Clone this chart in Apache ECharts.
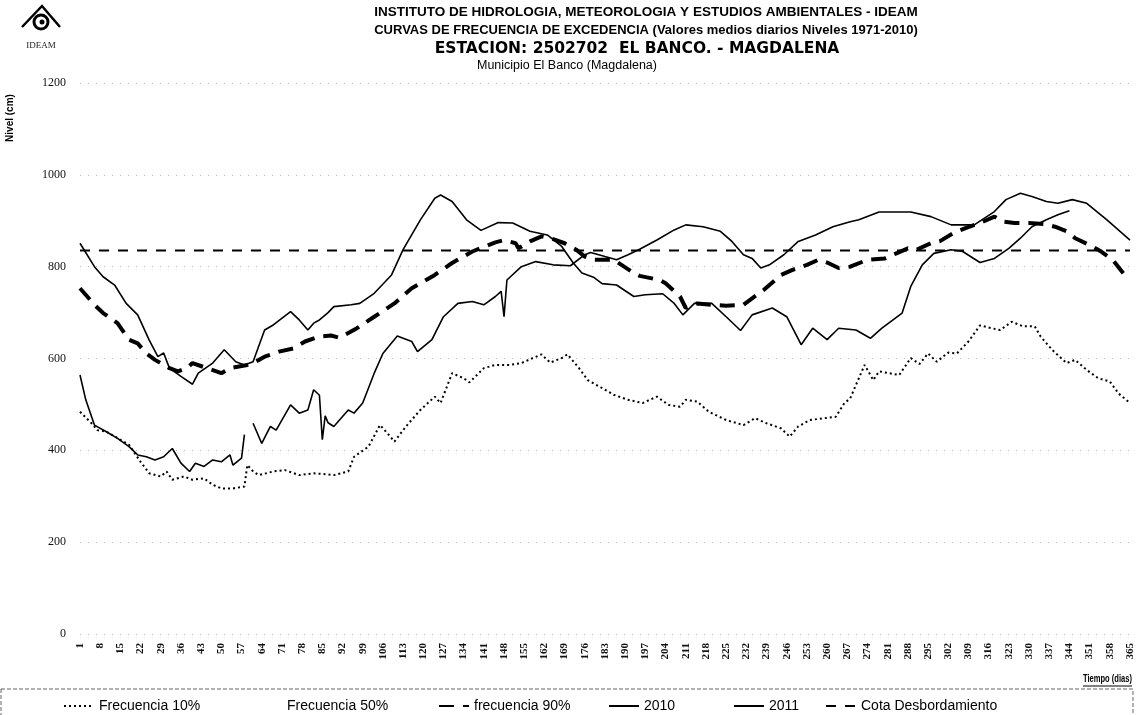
<!DOCTYPE html>
<html>
<head>
<meta charset="utf-8">
<title>Curvas de frecuencia de excedencia - El Banco</title>
<script src="https://cdn.jsdelivr.net/npm/echarts@6/dist/echarts.min.js"></script>
<style>
  html, body { margin: 0; padding: 0; background: #fff; }
  #chart { width: 1138px; height: 715px; }
</style>
</head>
<body>
<div id="chart"></div>
<script>
// niveles medios diarios (cm), por dia del año
const dias10 = [1,5,7,10,15,18,22,25,29,31,33,37,40,44,47,50,54,58,59,61,63,68,72,77,82,86,89,94,96,101,105,108,110,114,119,124,126,130,134,136,141,145,150,154,158,161,164,168,170,174,177,181,186,191,196,201,205,209,211,215,219,225,231,235,239,244,247,250,254,259,263,266,268,271,273,276,278,285,289,292,295,298,302,305,309,313,317,320,324,328,332,334,338,343,346,350,354,358,361,365];
const frec10 = [484,459,444,441,423,412,375,350,343,354,336,343,336,339,325,317,317,321,368,354,346,354,357,346,350,348,346,354,386,408,455,434,419,452,488,517,503,568,557,548,579,586,586,590,601,609,591,601,609,579,553,539,521,510,503,517,499,495,510,506,484,466,455,470,459,448,430,452,466,470,473,503,513,557,586,553,572,564,601,588,611,593,613,611,637,672,666,662,680,670,670,648,619,590,597,575,557,550,524,503];

const dias90 = [1,6,9,14,18,21,24,27,32,35,38,40,45,50,53,59,61,65,70,75,79,84,88,91,97,103,110,116,124,130,137,145,148,152,153,157,161,165,169,173,176,179,186,193,195,202,204,209,211,215,220,225,231,234,238,240,244,248,253,257,260,264,268,274,280,284,288,291,296,299,304,308,313,318,321,325,330,335,339,343,346,351,355,359,364];
const frec90 = [753,717,699,677,641,633,611,597,579,572,579,590,579,568,579,586,590,604,615,622,637,648,650,645,666,691,720,753,782,808,833,853,858,851,840,855,866,860,851,837,822,815,815,786,780,771,764,735,710,720,717,715,717,731,749,760,782,793,804,815,809,797,800,815,818,829,840,837,851,855,874,884,895,909,898,895,895,893,887,877,862,847,833,815,775];

// 2010: hueco sin datos hacia el dia 59
const dias2010 = [1,3,6,10,14,18,21,24,27,30,33,36,39,41,44,47,50,53,54,57,58,59,61,64,67,69,74,77,80,82,84,85,86,87,89,94,96,99,103,106,111,116,118,123,127,132,137,141,145,147,148,149,154,159,165,171,176,178,183,187,191,195,201,207,211,217,223,227,231,234,237,240,245,250,256,262,268,271,278,289,296,303,311,318,322,327,331,336,340,345,350,357,365];
const niv2010 = [564,510,455,441,426,408,390,386,379,386,404,372,354,372,365,379,375,390,368,383,434,'-',459,415,452,444,499,481,488,532,520,423,475,460,452,488,481,503,568,611,649,637,615,641,691,720,724,717,735,746,691,771,800,811,804,802,826,831,822,815,826,838,858,880,891,887,877,855,826,818,797,804,826,855,869,887,898,902,919,919,909,891,891,920,946,960,953,942,938,946,938,902,858];

// 2011: datos hasta el dia 344
const dias2011 = [1,6,9,13,17,21,25,28,30,32,36,40,42,47,51,55,58,61,65,68,74,77,80,82,84,87,89,95,98,103,109,113,119,124,126,130,135,140,146,151,157,163,168,172,175,179,182,187,193,197,203,207,210,214,220,225,230,234,241,246,251,255,260,264,270,275,279,286,289,293,297,303,307,313,318,323,327,331,336,340,344];
const niv2011 = [851,800,778,760,720,695,640,604,612,579,561,544,568,590,619,593,586,593,662,673,702,684,662,677,684,700,713,717,720,742,782,837,902,949,956,942,902,879,896,895,877,869,844,808,786,777,763,760,735,739,741,720,695,720,720,691,661,695,710,691,630,666,641,666,662,644,666,699,757,804,829,837,833,809,818,840,862,887,902,913,922];

const cotaDesborde = 835;

// eje x: dias 1..365
const dias = [];
for (let d = 1; d <= 365; d++) dias.push(String(d));

const pares = (d, v) => d.map((x, i) => [String(x), v[i]]);

const chart = echarts.init(document.getElementById('chart'));

// una leyenda por serie para poder ubicarlas como en el original
const leyenda = (nombre, left, icon) => ({
  left: left, top: 694, itemWidth: 30, itemHeight: 10,
  selectedMode: false,
  itemStyle: { opacity: 0 },
  data: [icon ? { name: nombre, icon: icon } : nombre],
  textStyle: { fontFamily: 'Liberation Sans', fontSize: 14, color: '#000' }
});

const option = {
  animation: false,
  backgroundColor: '#fff',
  grid: { left: 80, right: 8, top: 83, bottom: 81 },
  legend: [
    leyenda('Frecuencia 10%', 58),
    leyenda('Frecuencia 50%', 247, 'none'),
    leyenda('frecuencia 90%', 433),
    leyenda('2010', 603),
    leyenda('2011', 728),
    leyenda('Cota Desbordamiento', 820)
  ],
  xAxis: {
    type: 'category', data: dias, boundaryGap: false,
    axisLine: { show: false }, axisTick: { show: false },
    axisLabel: { interval: 6, rotate: 90, margin: 9, fontFamily: 'Liberation Serif', fontSize: 11, fontWeight: 'bold', color: '#111' },
    splitLine: { show: false }
  },
  yAxis: {
    type: 'value', min: 0, max: 1200, interval: 200,
    axisLine: { show: false }, axisTick: { show: false },
    axisLabel: { margin: 14, fontFamily: 'Liberation Serif', fontSize: 12, color: '#111', formatter: v => String(v) },
    splitLine: { lineStyle: { color: '#bbb', width: 1, type: [1, 7] } }
  },
  series: [
    { name: 'Frecuencia 10%', type: 'line', color: '#000', symbol: 'none',
      data: pares(dias10, frec10), lineStyle: { color: '#000', width: 2, type: [2, 3] } },
    { name: 'Frecuencia 50%', type: 'line', color: '#000', symbol: 'none', data: [] },
    { name: 'frecuencia 90%', type: 'line', color: '#000', symbol: 'none',
      data: pares(dias90, frec90), lineStyle: { color: '#000', width: 4, type: [15, 9] } },
    { name: '2010', type: 'line', color: '#000', symbol: 'none',
      data: pares(dias2010, niv2010), lineStyle: { color: '#000', width: 1.6 } },
    { name: '2011', type: 'line', color: '#000', symbol: 'none',
      data: pares(dias2011, niv2011), lineStyle: { color: '#000', width: 1.6 } },
    { name: 'Cota Desbordamiento', type: 'line', color: '#000', symbol: 'none',
      data: [['1', cotaDesborde], ['365', cotaDesborde]], lineStyle: { color: '#000', width: 2, type: [10, 9] } }
  ],
  graphic: [
    // logo IDEAM (aproximado)
    { type: 'polyline', shape: { points: [[22, 27], [42, 6], [60, 27]] }, style: { stroke: '#000', lineWidth: 2.5, fill: null } },
    { type: 'circle', shape: { cx: 41, cy: 22, r: 7 }, style: { stroke: '#000', lineWidth: 3, fill: null } },
    { type: 'circle', shape: { cx: 42, cy: 22, r: 2.5 }, style: { fill: '#000' } },
    { type: 'text', x: 41, y: 46, style: { text: 'IDEAM', font: '9px "Liberation Serif"', fill: '#222', textAlign: 'center', textVerticalAlign: 'middle' } },
    // titulos
    { type: 'text', x: 646, y: 12, style: { text: 'INSTITUTO DE HIDROLOGIA, METEOROLOGIA Y ESTUDIOS AMBIENTALES - IDEAM', font: 'bold 13.5px "Liberation Sans"', fill: '#000', textAlign: 'center', textVerticalAlign: 'middle' } },
    { type: 'text', x: 646, y: 30, style: { text: 'CURVAS DE FRECUENCIA DE EXCEDENCIA (Valores medios diarios Niveles 1971-2010)', font: 'bold 13px "Liberation Sans"', fill: '#000', textAlign: 'center', textVerticalAlign: 'middle' } },
    { type: 'text', x: 637, y: 49, style: { text: 'ESTACION: 2502702  EL BANCO. - MAGDALENA', font: 'bold 15.5px "DejaVu Sans"', fill: '#000', textAlign: 'center', textVerticalAlign: 'middle' } },
    { type: 'text', x: 477, y: 66, style: { text: 'Municipio El Banco (Magdalena)', font: '12.5px "Liberation Sans"', fill: '#000', textAlign: 'left', textVerticalAlign: 'middle' } },
    // nombre eje y
    { type: 'text', x: 10, y: 118, rotation: Math.PI / 2, style: { text: 'Nivel (cm)', font: 'bold 10px "Liberation Sans"', fill: '#000', textAlign: 'center', textVerticalAlign: 'middle' } },
    // nombre eje x subrayado (texto estrecho)
    { type: 'text', x: 1132, y: 679, scaleX: 0.72, style: { text: 'Tiempo (dias)', font: 'bold 10.5px "Liberation Sans"', fill: '#000', textAlign: 'right', textVerticalAlign: 'middle' } },
    { type: 'line', shape: { x1: 1083, y1: 686, x2: 1132, y2: 686 }, style: { stroke: '#000', lineWidth: 1 } },
    // marco de la leyenda
    { type: 'rect', shape: { x: 1, y: 689, width: 1132, height: 40 }, style: { fill: null, stroke: '#666', lineWidth: 1, lineDash: [4, 2] } }
  ]
};

chart.setOption(option);
</script>
</body>
</html>
